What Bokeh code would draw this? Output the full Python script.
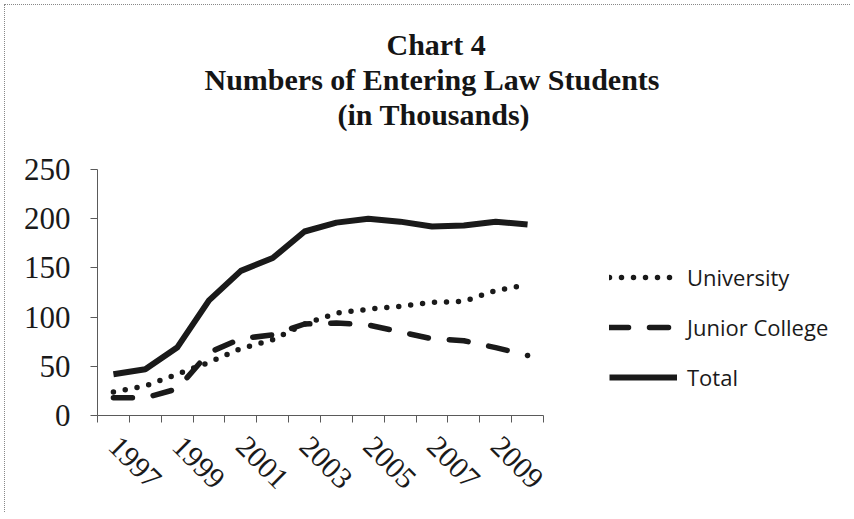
import math
from bokeh.plotting import figure
from bokeh.models import Range1d, FixedTicker, Legend, LegendItem, Title, LinearAxis
from bokeh.embed import file_html
from bokeh.resources import INLINE

# ---- data (thousands of students) ----
years = list(range(1997, 2011))
university = [24, 30, 42, 54, 68, 77, 93, 104, 108, 111, 115, 116, 127, 133]
junior_college = [18, 18, 27, 64, 78, 82, 93, 94, 92, 85, 78, 76, 69, 61]
total = [42, 47, 69, 117, 147, 160, 187, 196, 200, 197, 192, 193, 197, 194]
label_years = [1997, 1999, 2001, 2003, 2005, 2007, 2009]
y_ticks = [0, 50, 100, 150, 200, 250]
title_lines = ["Chart 4", "Numbers of Entering Law Students", "(in Thousands)"]
series_names = ["University", "Junior College", "Total"]

INK = "#1a1a1a"
AXIS = "#5a5a5a"
SERIF = "Liberation Serif"

PX_PER_YEAR = 446 / 14.0
FRAME_W = 846 - 92 - 6
x_end = 1996.5 + FRAME_W / PX_PER_YEAR

p = figure(width=846, height=508, output_backend="svg", toolbar_location=None,
           title=None,
           x_range=Range1d(1996.5, x_end), y_range=Range1d(0, 250),
           min_border_left=92, min_border_right=6, min_border_top=164,
           min_border_bottom=98, x_axis_type=None, y_axis_type=None)
p.outline_line_color = None
p.background_fill_color = "white"
p.border_fill_color = "white"

# titles: spacer first (closest to frame), then lines from bottom to top
p.add_layout(Title(text=" ", text_font_size="10px", standoff=26), "above")
title_offsets = [289, 107, 240]
for txt, off in zip(reversed(title_lines), reversed(title_offsets)):
    p.add_layout(Title(text=txt, align="left", offset=off, text_font=SERIF,
                       text_font_size="30px", text_font_style="bold",
                       text_color="#151515", standoff=0), "above")

# x axis: labels on odd years, tick marks on category boundaries
boundaries = [y - 0.5 for y in years] + [years[-1] + 0.5]
xaxis = LinearAxis(ticker=FixedTicker(ticks=label_years, minor_ticks=boundaries),
                   bounds=(boundaries[0], boundaries[-1]),
                   major_label_orientation=-math.pi / 4,
                   axis_line_color=AXIS, axis_line_width=1,
                   major_tick_line_color=None, major_tick_out=0, major_tick_in=0,
                   minor_tick_line_color=AXIS, minor_tick_out=7, minor_tick_in=0,
                   major_label_text_font=SERIF, major_label_text_font_size="30px",
                   major_label_text_color=INK, major_label_standoff=19)
p.add_layout(xaxis, "below")

yaxis = LinearAxis(ticker=FixedTicker(ticks=y_ticks, minor_ticks=[]),
                   axis_line_color=AXIS, axis_line_width=1,
                   major_tick_line_color=AXIS, major_tick_out=7, major_tick_in=0,
                   minor_tick_line_color=None,
                   major_label_text_font=SERIF, major_label_text_font_size="31px",
                   major_label_text_color=INK, major_label_standoff=20)
p.add_layout(yaxis, "left")

r_u = p.line(years, university, line_color=INK, line_width=5.5,
             line_dash="0 12", line_cap="round")
r_j = p.line(years, junior_college, line_color=INK, line_width=5.5,
             line_dash="19 21", line_cap="round")
r_t = p.line(years, total, line_color=INK, line_width=6, line_join="round")

legend = Legend(items=[LegendItem(label=n, renderers=[r])
                       for n, r in zip(series_names, [r_u, r_j, r_t])],
                location=(512, 23), orientation="vertical",
                border_line_color=None, background_fill_alpha=0,
                padding=0, margin=0, spacing=20,
                glyph_width=68, glyph_height=26, label_height=26,
                label_standoff=10, label_text_font="Open Sans",
                label_text_font_size="22px", label_text_color=INK)
p.add_layout(legend, "center")

p.styles = {"margin-left": "4px", "margin-top": "4px",
            "border-left": "1px dotted #888", "border-top": "1px dotted #888"}

open("out.html", "w").write(file_html(p, INLINE))
